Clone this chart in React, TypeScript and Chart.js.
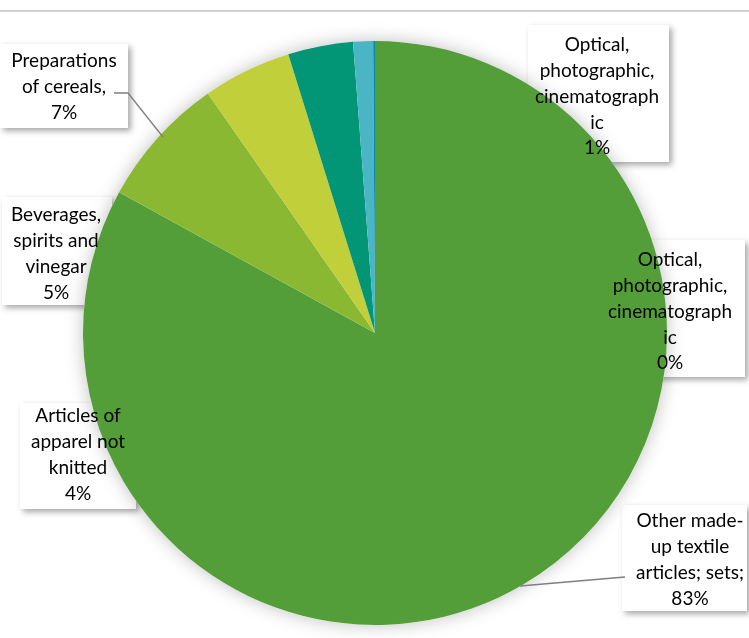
import React, { useEffect, useRef } from "react";
import { Chart, registerables } from "chart.js";

Chart.register(...registerables);

// ---- data ----
const categories = [
  "Other made-up textile articles; sets",
  "Preparations of cereals",
  "Beverages, spirits and vinegar",
  "Articles of apparel not knitted",
  "Optical, photographic, cinematographic",
  "Optical, photographic, cinematographic",
];
const values = [83.0, 7.3, 4.9, 3.6, 1.1, 0.1];
const labelLines = [
  ["Other made-", "up textile", "articles; sets;"],
  ["Preparations", "of cereals,"],
  ["Beverages,", "spirits and", "vinegar"],
  ["Articles of", "apparel not", "knitted"],
  ["Optical,", "photographic,", "cinematograph", "ic"],
  ["Optical,", "photographic,", "cinematograph", "ic"],
];
const colors = ["#549E39", "#8AB833", "#C0CF3A", "#029676", "#4AB5C4", "#0989B1"];

// ---- layout of label boxes (positions only) ----
const boxes = [
  { x: 622, y: 505, w: 125, h: 106, cx: 690, y0: 521 },
  { x: 0, y: 44, w: 128, h: 84, cx: 64, y0: 61 },
  { x: 2, y: 197, w: 110, h: 108, cx: 56, y0: 215 },
  { x: 20, y: 403, w: 116, h: 106, cx: 78, y0: 416 },
  { x: 528, y: 25, w: 141, h: 137, cx: 597, y0: 45 },
  { x: 598, y: 240, w: 147, h: 137, cx: 670, y0: 260 },
];
const leaders: { [k: number]: number[][] } = {
  0: [[625, 577], [520, 586]],
  1: [[114, 93], [128, 93], [163, 137]],
};
const LINE_H = 25.8;
const FONT = "19px Lato, 'Noto Sans', sans-serif";

const labelPlugin = {
  id: "excelLabels",
  beforeDatasetsDraw(chart: any) {
    const ctx = chart.ctx;
    const meta = chart.getDatasetMeta(0);
    const arc = meta.data[0];
    ctx.save();
    boxes.forEach((b) => {
      ctx.save();
      ctx.shadowColor = "rgba(0,0,0,0.35)";
      ctx.shadowBlur = 6;
      ctx.shadowOffsetX = 3;
      ctx.shadowOffsetY = 3;
      ctx.fillStyle = "#ffffff";
      ctx.fillRect(b.x, b.y, b.w, b.h);
      ctx.restore();
    });
    if (arc) {
      ctx.save();
      ctx.shadowColor = "rgba(0,0,0,0.25)";
      ctx.shadowBlur = 18;
      ctx.beginPath();
      ctx.arc(arc.x, arc.y, arc.outerRadius, 0, Math.PI * 2);
      ctx.fillStyle = "#ffffff";
      ctx.fill();
      ctx.restore();
    }
    ctx.restore();
  },
  afterDatasetsDraw(chart: any) {
    const ctx = chart.ctx;
    const total = values.reduce((a, b) => a + b, 0);
    ctx.save();
    ctx.strokeStyle = "#7f7f7f";
    ctx.lineWidth = 1.3;
    Object.keys(leaders).forEach((k) => {
      const pts = leaders[Number(k)];
      ctx.beginPath();
      pts.forEach((p, i) => (i === 0 ? ctx.moveTo(p[0], p[1]) : ctx.lineTo(p[0], p[1])));
      ctx.stroke();
    });
    ctx.fillStyle = "#000000";
    ctx.font = FONT;
    ctx.textAlign = "center";
    ctx.textBaseline = "middle";
    boxes.forEach((b, i) => {
      const pct = Math.round((values[i] / total) * 100) + "%";
      const lines = [...labelLines[i], pct];
      lines.forEach((t, j) => ctx.fillText(t, b.cx, b.y0 + j * LINE_H));
    });
    ctx.strokeStyle = "#d0d0d0";
    ctx.lineWidth = 2;
    ctx.beginPath();
    ctx.moveTo(0, 11);
    ctx.lineTo(749, 11);
    ctx.stroke();
    ctx.restore();
  },
};

export default function App() {
  const ref = useRef<HTMLCanvasElement>(null);
  useEffect(() => {
    if (!ref.current) return;
    const chart = new Chart(ref.current, {
      type: "pie",
      data: {
        labels: categories,
        datasets: [
          {
            data: values,
            backgroundColor: colors,
            borderWidth: 0,
          },
        ],
      },
      options: {
        responsive: false,
        animation: false,
        devicePixelRatio: 1,
        layout: { padding: { top: 41, bottom: 13, left: 83, right: 82 } },
        plugins: {
          legend: { display: false },
          tooltip: { enabled: false },
          title: { display: false },
        },
      },
      plugins: [labelPlugin],
    });
    return () => chart.destroy();
  }, []);
  return (
    <div style={{ position: "fixed", left: 0, top: 0, width: 749, height: 638, background: "#fff" }}>
      <canvas ref={ref} width={749} height={638} style={{ width: 749, height: 638, display: "block" }} />
    </div>
  );
}
